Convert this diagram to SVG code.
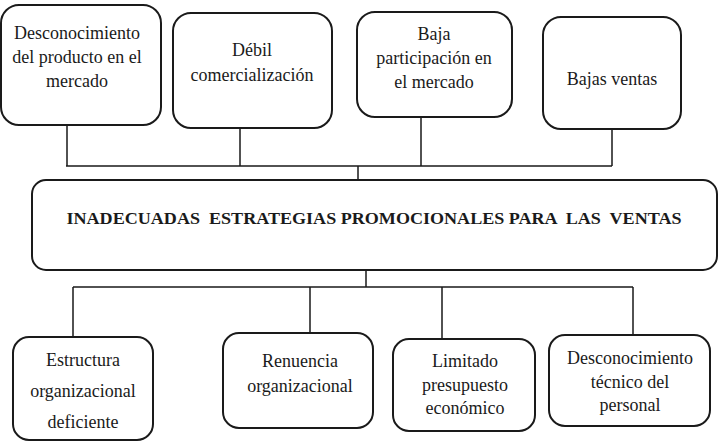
<svg xmlns="http://www.w3.org/2000/svg" width="720" height="441" viewBox="0 0 720 441">
<style>
.box{fill:#fff;stroke:#1a1a1a;stroke-width:2}
.t{font-family:"Liberation Serif","Times New Roman",serif;font-size:18px;fill:#1a1a1a;text-anchor:middle}
.b{font-weight:bold;font-size:17.5px}
.c{fill:none;stroke:#1a1a1a;stroke-width:1.5}
</style>
<rect width="720" height="441" fill="#fff"/>
<g id="connectors">
<path class="c" d="M67 125V166M240 128V166M421 117V166M612 114V166M66 166H612M358 166V180"/>
<path class="c" d="M366 270V287M73 287H633M73 287V337M310 287V333M442 287V339M633 287V335"/>
</g>
<g id="n1"><rect class="box" x="1" y="5" width="160" height="120" rx="18"/>
<text class="t" x="77" y="39">Desconocimiento</text><text class="t" x="77" y="63">del producto en el</text><text class="t" x="77" y="87">mercado</text></g>
<g id="n2"><rect class="box" x="173" y="13" width="159" height="115" rx="18"/>
<text class="t" x="252" y="56">Débil</text><text class="t" x="252" y="81">comercialización</text></g>
<g id="n3"><rect class="box" x="357" y="12" width="155" height="105" rx="18"/>
<text class="t" x="434" y="40">Baja</text><text class="t" x="434" y="64">participación en</text><text class="t" x="434" y="88">el mercado</text></g>
<g id="n4"><rect class="box" x="543" y="17" width="138" height="112" rx="18"/>
<text class="t" x="612" y="85">Bajas ventas</text></g>
<g id="main"><rect class="box" x="32" y="180" width="685" height="90" rx="14"/>
<text class="t b" x="374" y="224" xml:space="preserve" textLength="615" lengthAdjust="spacingAndGlyphs">INADECUADAS  ESTRATEGIAS PROMOCIONALES PARA  LAS  VENTAS</text></g>
<g id="n5"><rect class="box" x="13" y="337" width="140" height="103" rx="16"/>
<text class="t" x="83" y="366">Estructura</text><text class="t" x="83" y="397">organizacional</text><text class="t" x="83" y="428">deficiente</text></g>
<g id="n6"><rect class="box" x="223" y="333" width="150" height="95" rx="16"/>
<text class="t" x="300" y="367">Renuencia</text><text class="t" x="300" y="392">organizacional</text></g>
<g id="n7"><rect class="box" x="393" y="339" width="142" height="92" rx="16"/>
<text class="t" x="465" y="367">Limitado</text><text class="t" x="465" y="391">presupuesto</text><text class="t" x="465" y="414">económico</text></g>
<g id="n8"><rect class="box" x="549" y="335" width="161" height="91" rx="16"/>
<text class="t" x="630" y="364">Desconocimiento</text><text class="t" x="630" y="388">técnico del</text><text class="t" x="630" y="411">personal</text></g>
</svg>
